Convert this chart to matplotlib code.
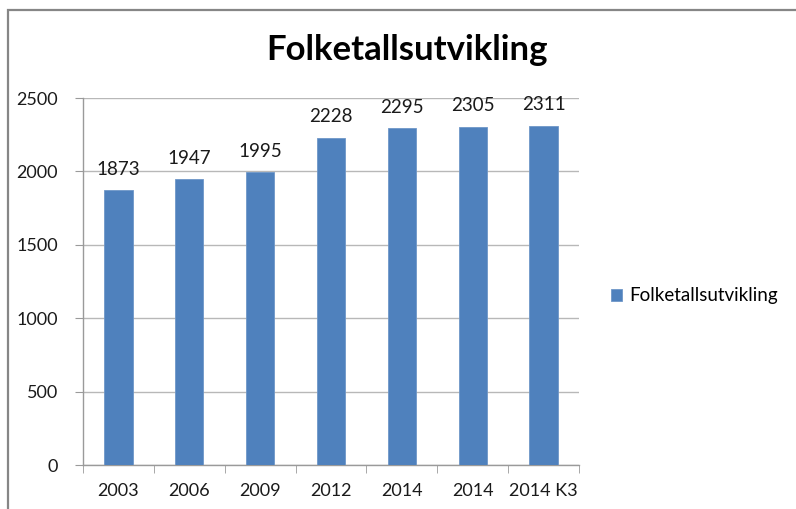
import matplotlib
matplotlib.use("Agg")
import matplotlib.pyplot as plt
from matplotlib.patches import Rectangle
import numpy as np

categories = ["2003", "2006", "2009", "2012", "2014", "2014", "2014 K3"]
values = [1873, 1947, 1995, 2228, 2295, 2305, 2311]
series_name = "Folketallsutvikling"
title = "Folketallsutvikling"
yticks = [0, 500, 1000, 1500, 2000, 2500]

plt.rcParams['font.family'] = ['Lato', 'DejaVu Sans']

W, H = 796, 509
fig = plt.figure(figsize=(W / 100, H / 100), dpi=100)

# chart border (partly cropped at right/bottom)
fig.patches.append(Rectangle((8 / W, -0.1), 1.2, (H - 10) / H + 0.1, transform=fig.transFigure,
                             fill=False, edgecolor='#868686', linewidth=1.6))

ax = fig.add_axes([83 / W, (H - 465) / H, (579 - 83) / W, (465 - 98) / H])
x = np.arange(len(categories))
bars = ax.bar(x, values, width=0.4, color='#4F81BD', edgecolor='#6F97C8', linewidth=0.6,
              label=series_name, zorder=3)
ax.set_xlim(-0.5, len(categories) - 0.5)
ax.set_ylim(0, 2500)
ax.set_yticks(yticks)
ax.set_yticklabels([str(t) for t in yticks], fontsize=13, color='#1a1a1a')
ax.set_xticks(x)
ax.set_xticklabels(categories, fontsize=13, color='#1a1a1a')
ax.set_xticks(np.arange(len(categories) + 1) - 0.5, minor=True)
ax.tick_params(axis='x', which='major', length=0, pad=13)
ax.tick_params(axis='x', which='minor', length=6, color='#9a9a9a', direction='out')
ax.tick_params(axis='y', length=6, color='#9a9a9a', direction='out', pad=12)
ax.grid(axis='y', color='#b8b8b8', linewidth=1.0, zorder=0)
for s in ['top', 'right']:
    ax.spines[s].set_visible(False)
for s in ['left', 'bottom']:
    ax.spines[s].set_color('#9a9a9a')
    ax.spines[s].set_linewidth(1.0)

for xi, v in zip(x, values):
    ax.annotate(str(v), (xi, v), xytext=(0, 9), textcoords='offset points',
                ha='center', va='bottom', fontsize=13.5, color='#1a1a1a')

fig.text(407 / W, 1 - 50 / H, title, ha='center', va='center', fontsize=25,
         fontweight='bold', color='black')

leg = fig.legend(handles=[bars], labels=[series_name], loc='center left',
                 bbox_to_anchor=(594 / W, 1 - 296 / H), frameon=False, fontsize=13.5,
                 handlelength=0.6, handleheight=0.6, handletextpad=0.4)

fig.savefig("out.png", dpi=100)
